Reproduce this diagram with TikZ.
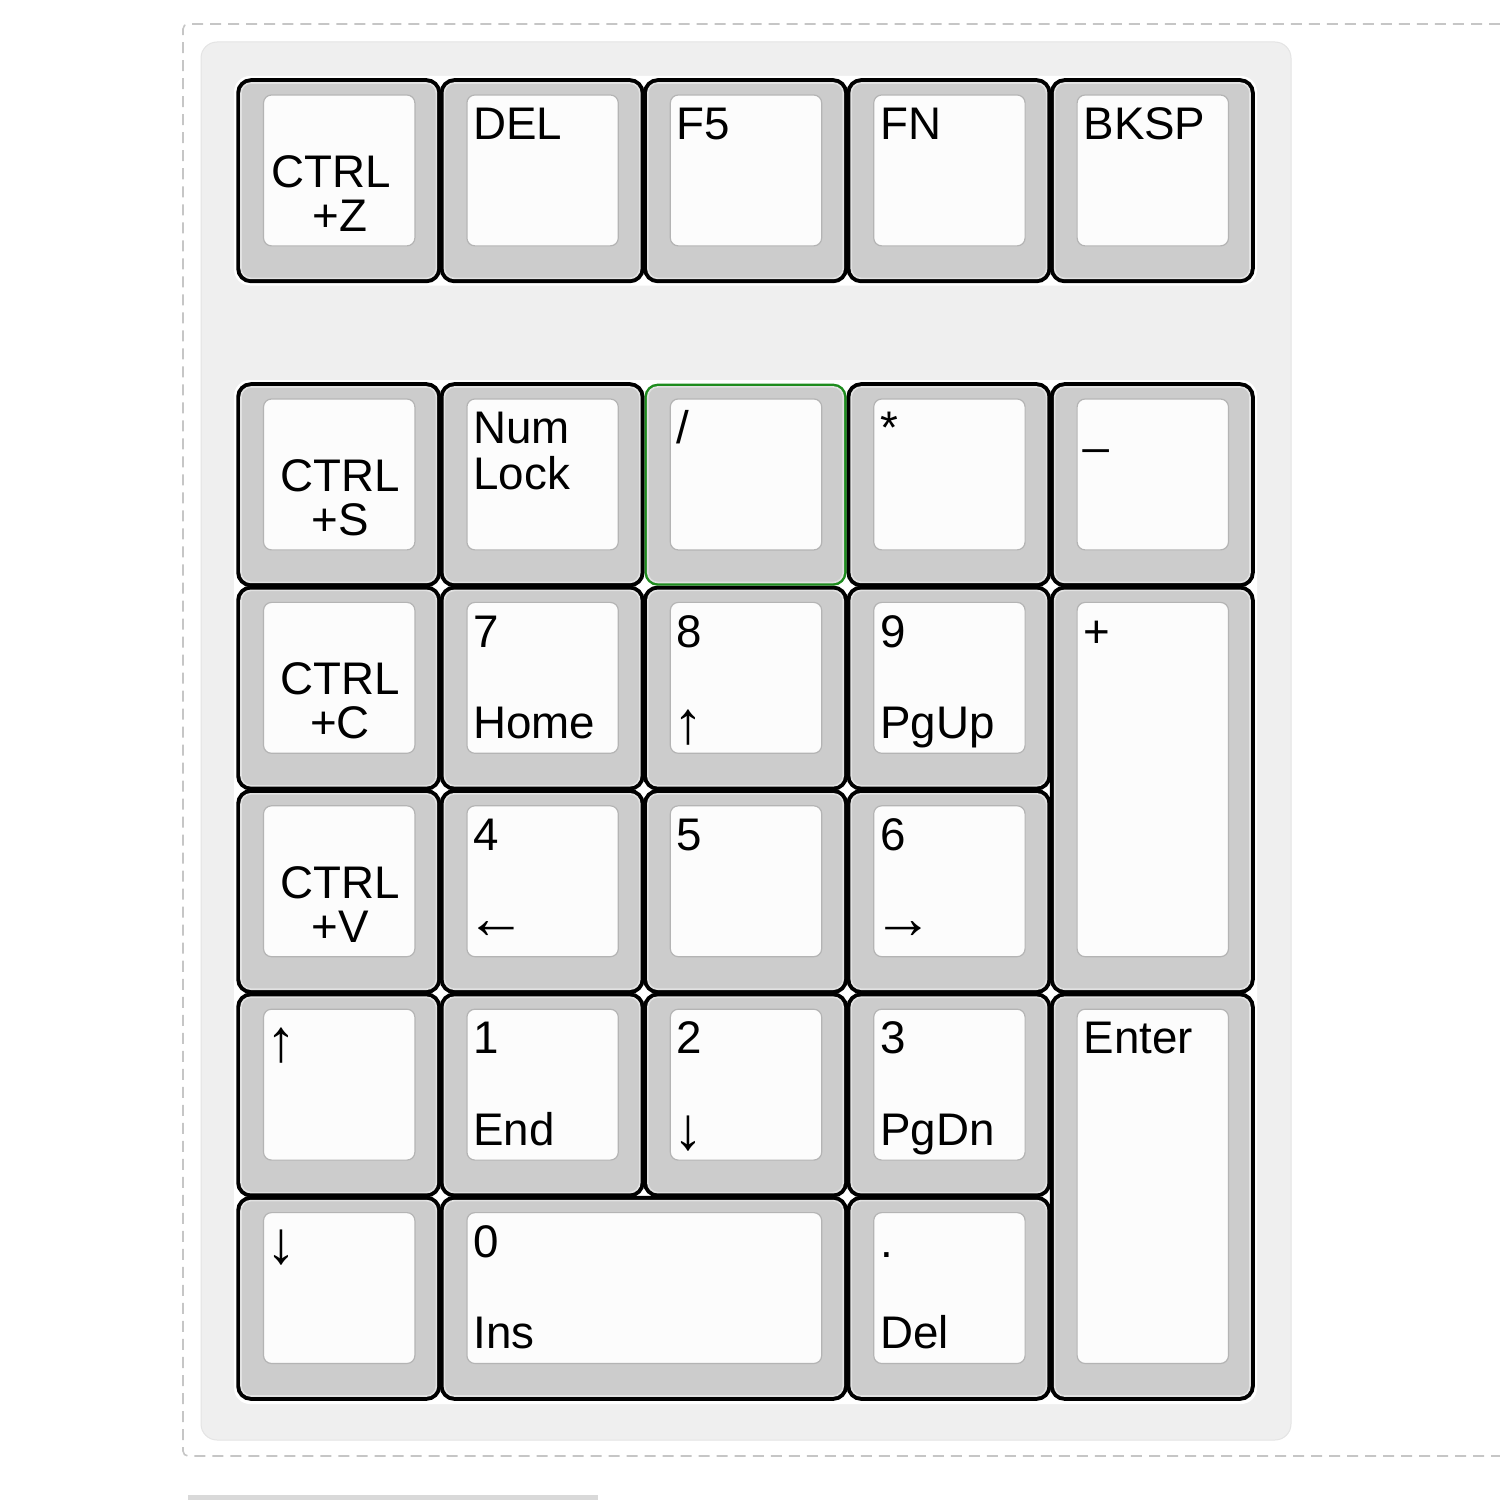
\documentclass[tikz,border=0pt]{standalone}
\usepackage{fontspec}
\setmainfont{Liberation Sans}
\usepackage{tikz}
\usepackage{xcolor}
\definecolor{keygray}{HTML}{CCCCCC}
\definecolor{keyring}{HTML}{E2E2E2}
\definecolor{keytop}{HTML}{FCFCFC}
\definecolor{keyshade}{HTML}{B4B4B4}
\definecolor{keygreen}{HTML}{1E8C1E}
\definecolor{platefill}{HTML}{EFEFEF}
\definecolor{plateedge}{HTML}{E4E4E4}
\definecolor{framegray}{HTML}{C6C6C6}
\definecolor{bargray}{HTML}{D9D9D9}
\tikzset{
    key-body/.style = {rectangle, fill=keygray, draw=keyring, line width=0.016cm, rounded corners=0.1cm, inner sep=0pt},
    key-cap/.style = {key-body, preaction={draw=black, line width=0.095cm}},
    key-hot/.style = {key-body, preaction={draw=keygreen, line width=0.065cm}},
    key-top/.style = {rectangle, fill=keytop, draw=keyshade, line width=0.012cm, rounded corners=0.08cm, inner sep=0pt},
    key-label/.style = {inner sep=0pt, anchor=base west, font=\fontsize{13}{13}\selectfont},
    arrow-label/.style = {inner sep=0pt, anchor=west, font=\fontsize{17}{17}\selectfont},
    ctrl-label/.style = {inner sep=0pt, anchor=base, font=\fontsize{13}{13}\selectfont},
    frame-line/.style = {draw=framegray, line width=0.016cm, dash pattern=on 0.11cm off 0.07cm, rounded corners=0.05cm},
    pad-plate/.style = {fill=platefill, draw=plateedge, line width=0.01cm, rounded corners=0.16cm},
}

\begin{document}
\begin{tikzpicture}[x=0.01cm, y=-0.01cm]
\useasboundingbox (0,0) rectangle (1500,1500);

% frame, plate and the white ground under the keys
\draw[frame-line] (1500,24) -- (183,24) -- (183,1456) -- (1500,1456);
\fill[bargray] (188,1495) rectangle (598,1500);
\draw[pad-plate] (201,42) rectangle (1291,1440);
\fill[white, rounded corners=0.16cm] (234,76) rectangle (1257,285.5);
\fill[white, rounded corners=0.16cm] (234,380) rectangle (1257,1404);

% keys: name / column / top edge / width / height
\foreach \kn/\cx/\ry/\kw/\kh in {undo/0/79/1/1, del/1/79/1/1, ffive/2/79/1/1, fn/3/79/1/1, bksp/4/79/1/1,
    save/0/383/1/1, numlock/1/383/1/1, star/3/383/1/1, minus/4/383/1/1,
    copy/0/586.4/1/1, seven/1/586.4/1/1, eight/2/586.4/1/1, nine/3/586.4/1/1, plus/4/586.4/1/2,
    paste/0/789.8/1/1, four/1/789.8/1/1, five/2/789.8/1/1, six/3/789.8/1/1,
    up/0/993.2/1/1, one/1/993.2/1/1, two/2/993.2/1/1, three/3/993.2/1/1, enter/4/993.2/1/2,
    down/0/1196.6/1/1, zero/1/1196.6/2/1, dot/3/1196.6/1/1}{
  \node[key-cap, minimum width={(203.4*\kw-8)*0.01cm}, minimum height={(203.4*\kh-8)*0.01cm}]
    (k-\kn) at ({237+203.4*(\cx+\kw/2)}, {\ry+101.7*\kh}) {};
  \node[key-top, minimum width={(203.4*\kw-52)*0.01cm}, minimum height={(203.4*\kh-52.5)*0.01cm}]
    (t-\kn) at ([xshift=0.005cm, yshift=0.1025cm]k-\kn.center) {};
}
\node[key-hot, minimum width=1.954cm, minimum height=1.954cm] (k-slash) at (745.5,484.7) {};
\node[key-top, minimum width=1.514cm, minimum height=1.509cm] (t-slash) at ([xshift=0.005cm, yshift=0.1025cm]k-slash.center) {};

% top legends
\foreach \kn/\t in {del/DEL, ffive/F5, fn/FN, bksp/BKSP, numlock/Num, star/*, minus/\_,
    seven/7, eight/8, nine/9, plus/+, four/4, five/5, six/6,
    one/1, two/2, three/3, enter/Enter, zero/0, dot/.}
  \node[key-label] (l-\kn) at ([shift={(29,57.5)}]k-\kn.north west) {\t};
\node[key-label] (l-slash) at ([shift={(29,57.5)}]k-slash.north west) {/};
\node[key-label] (l-lock) at ([shift={(29,103.5)}]k-numlock.north west) {Lock};
\node[arrow-label] (l-up) at ([shift={(26,49)}]k-up.north west) {↑};
\node[arrow-label] (l-down) at ([shift={(26,48)}]k-down.north west) {↓};

% bottom legends
\foreach \kn/\t in {seven/Home, nine/PgUp, one/End, three/PgDn, zero/Ins, dot/Del}
  \node[key-label] (b-\kn) at ([shift={(29,149)}]k-\kn.north west) {\t};
\foreach \kn/\t/\dx in {eight/↑/26, four/←/22, six/→/22, two/↓/26}
  \node[arrow-label] (b-\kn) at ([shift={(\dx,137.5)}]k-\kn.north west) {\t};

% shortcut keys
\foreach \kn/\t/\dx in {undo/Z/-9, save/S/0, copy/C/0, paste/V/0}{
  \node[ctrl-label] (c-\kn) at ([shift={(\dx+1.3,105)}]k-\kn.north) {CTRL};
  \node[ctrl-label] (p-\kn) at ([shift={(1.3,149)}]k-\kn.north) {+\t};
}
\end{tikzpicture}
\end{document}
